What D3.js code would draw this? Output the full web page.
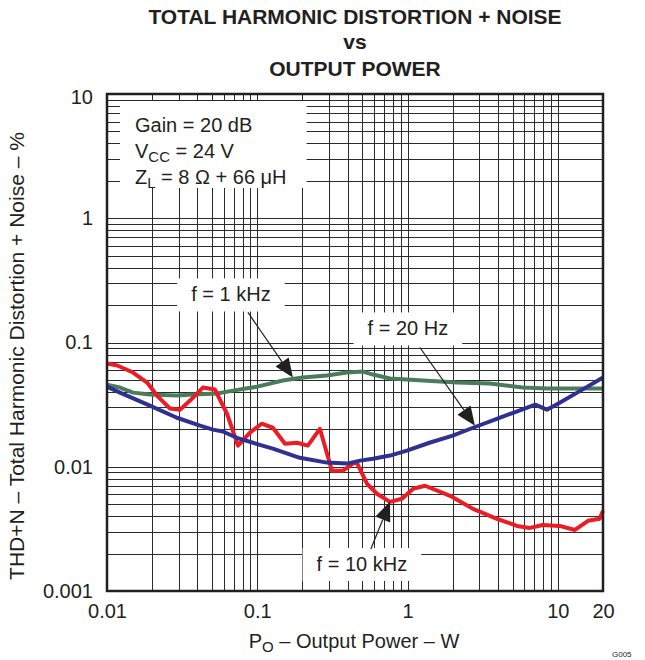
<!DOCTYPE html>
<html><head><meta charset="utf-8">
<script src="https://cdn.jsdelivr.net/npm/d3@7"></script>
<style>
body{margin:0;background:#fff}
text{font-family:Arial,"Liberation Sans",Helvetica,sans-serif;fill:#231f20}
</style>
</head><body><svg id="c" width="645" height="660"></svg>
<script>
// ---------------- data ----------------
const titleLines = ["TOTAL HARMONIC DISTORTION + NOISE", "vs", "OUTPUT POWER"];
const xTickValues = [0.01, 0.1, 1, 10, 20];
const xTickLabels = ["0.01", "0.1", "1", "10", "20"];
const yTickValues = [10, 1, 0.1, 0.01, 0.001];
const yTickLabels = ["10", "1", "0.1", "0.01", "0.001"];
const xAxisLabel = ["P", "O", " \u2013 Output Power \u2013 W"];
const yAxisLabel = "THD+N \u2013 Total Harmonic Distortion + Noise \u2013 %";
const conditions = [["Gain = 20 dB", "", ""], ["V", "CC", " = 24 V"], ["Z", "L", " = 8 \u03A9 + 66 \u03BCH"]];

// f = 1 kHz
const power1k = [0.01, 0.0122, 0.0149, 0.0193, 0.0292, 0.0373, 0.054, 0.0689, 0.1, 0.148, 0.2, 0.291, 0.395, 0.505, 0.589, 0.764, 1.27, 2.13, 3.53, 5.86, 8.46, 12.6, 20];
const thd1k = [0.0458, 0.0434, 0.0395, 0.0381, 0.0374, 0.0381, 0.0388, 0.041, 0.0441, 0.0494, 0.0523, 0.0542, 0.0573, 0.0583, 0.0552, 0.0513, 0.0494, 0.0476, 0.0467, 0.0434, 0.0426, 0.0426, 0.0426];
// f = 20 Hz
const power20 = [0.01, 0.0122, 0.0193, 0.0292, 0.0416, 0.0507, 0.0591, 0.0731, 0.104, 0.127, 0.192, 0.291, 0.395, 0.484, 0.589, 0.764, 0.99, 1.40, 2.00, 2.73, 3.97, 5.05, 7.08, 8.46, 10.3, 14.2, 20];
const thd20 = [0.0441, 0.0395, 0.031, 0.0248, 0.0214, 0.0199, 0.0192, 0.0171, 0.0150, 0.0140, 0.0118, 0.0108, 0.0106, 0.0112, 0.0116, 0.0123, 0.0135, 0.0156, 0.0178, 0.0206, 0.0244, 0.0272, 0.0316, 0.0288, 0.0328, 0.041, 0.0523];
// f = 10 kHz
const power10k = [0.01, 0.0117, 0.0149, 0.0185, 0.0215, 0.0263, 0.0306, 0.0357, 0.0435, 0.0523, 0.0629, 0.0744, 0.0894, 0.107, 0.127, 0.153, 0.184, 0.217, 0.261, 0.314, 0.372, 0.433, 0.46, 0.537, 0.626, 0.764, 0.918, 1.09, 1.31, 1.92, 2.73, 3.94, 5.35, 6.52, 7.96, 10.3, 13.0, 15.9, 19.0, 20];
const thd10k = [0.0678, 0.0653, 0.0573, 0.0476, 0.0374, 0.0294, 0.0288, 0.0341, 0.0434, 0.0418, 0.0267, 0.0148, 0.0188, 0.0222, 0.0206, 0.0153, 0.0156, 0.0148, 0.0202, 0.0093, 0.0093, 0.0106, 0.0108, 0.0073, 0.00606, 0.00522, 0.00552, 0.00665, 0.00703, 0.00584, 0.00458, 0.00381, 0.00334, 0.00322, 0.0034, 0.00334, 0.0031, 0.00367, 0.00381, 0.00442];

const seriesNames = ["f = 1 kHz", "f = 20 Hz", "f = 10 kHz"];
const seriesColors = ["#4a7c5c", "#2e3192", "#ed1c24"];
// annotation: label position (P, THD) and arrow tail / tip in data units
const labelAt = [[0.0668, 0.214], [1.006, 0.114], [0.497, 0.00145]];
const arrowFrom = [[0.0867, 0.1746], [1.209, 0.0912], [0.570, 0.00218]];
const arrowTip = [[0.1727, 0.0522], [2.81, 0.0214], [0.764, 0.00522]];

// ---------------- chart ----------------
const L = 107, R = 603, T = 94, B = 591;
const svg = d3.select("#c");
const x = d3.scaleLog().domain([0.01, 20]).range([L, R]);
const y = d3.scaleLog().domain([0.001, 10]).range([B, T]);

// grid lines through axes
const xGrid = [];
[0.01, 0.1, 1].forEach(d => { for (let k = 1; k <= 9; k++) xGrid.push(d * k); });
xGrid.push(10);
const yGrid = [];
[0.001, 0.01, 0.1, 1].forEach(d => { for (let k = 1; k <= 9; k++) yGrid.push(d * k); });

const gx = svg.append("g").attr("transform", `translate(0,${B})`)
  .call(d3.axisBottom(x).tickValues(xGrid).tickSize(-(B - T)).tickFormat(""));
const gy = svg.append("g").attr("transform", `translate(${L},0)`)
  .call(d3.axisLeft(y).tickValues(yGrid).tickSize(-(R - L)).tickFormat(""));
[gx, gy].forEach(g => {
  g.select(".domain").remove();
  g.selectAll(".tick line").attr("stroke", "#2a2a2a").attr("stroke-width", 1).attr("shape-rendering", "crispEdges");
});

// tick labels
const ax = svg.append("g").attr("transform", `translate(0,${B})`)
  .call(d3.axisBottom(x).tickValues(xTickValues).tickSize(0).tickPadding(13)
    .tickFormat((d, i) => xTickLabels[i]));
const ay = svg.append("g").attr("transform", `translate(${L},0)`)
  .call(d3.axisLeft(y).tickValues(yTickValues).tickSize(0).tickPadding(14)
    .tickFormat((d, i) => yTickLabels[i]));
[ax, ay].forEach(g => {
  g.select(".domain").remove();
  g.selectAll("text").attr("font-size", 20).attr("font-family", "Arial, 'Liberation Sans', sans-serif").attr("fill", "#231f20");
});
ay.selectAll(".tick").filter(d => d === 10).select("text").attr("dy", "0.45em");

// conditions box
const cond = svg.append("g");
conditions.forEach((c, i) => {
  const t = cond.append("text").attr("x", 135).attr("y", 132 + i * 26).attr("font-size", 20);
  t.append("tspan").text(c[0]);
  if (c[1]) t.append("tspan").attr("font-size", 15).attr("dy", 4).text(c[1]);
  if (c[2]) t.append("tspan").attr("dy", c[1] ? -4 : 0).text(c[2]);
});
const cb = cond.node().getBBox();
cond.insert("rect", ":first-child").attr("x", cb.x - 15).attr("y", 101)
  .attr("width", cb.width + 35).attr("height", 87).attr("fill", "#fff");

// annotation label boxes (drawn before curves)
const labels = svg.append("g");
seriesNames.forEach((n, i) => {
  const g = labels.append("g");
  const t = g.append("text").attr("x", x(labelAt[i][0])).attr("y", y(labelAt[i][1]))
    .attr("text-anchor", "middle").attr("font-size", 20).text(n);
  const b = t.node().getBBox();
  g.insert("rect", "text").attr("x", b.x - 14).attr("y", b.y - 5)
    .attr("width", b.width + 28).attr("height", b.height + 11).attr("fill", "#fff");
});

// curves
const series = [
  power1k.map((p, i) => ({p, v: thd1k[i]})),
  power20.map((p, i) => ({p, v: thd20[i]})),
  power10k.map((p, i) => ({p, v: thd10k[i]}))
];
const line = d3.line().x(d => x(d.p)).y(d => y(d.v));
const drawOrder = [0, 2, 1];
svg.append("g").selectAll("path").data(drawOrder).join("path")
  .attr("d", i => line(series[i])).attr("fill", "none")
  .attr("stroke", i => seriesColors[i]).attr("stroke-width", 4)
  .attr("stroke-linejoin", "round").attr("stroke-linecap", "butt");

// arrows
const arrows = svg.append("g");
seriesNames.forEach((n, i) => {
  const x0 = x(arrowFrom[i][0]), y0 = y(arrowFrom[i][1]);
  const x1 = x(arrowTip[i][0]), y1 = y(arrowTip[i][1]);
  const dx = x1 - x0, dy = y1 - y0, len = Math.hypot(dx, dy);
  const ux = dx / len, uy = dy / len, hl = 19, hw = 8;
  const bx = x1 - ux * hl, by = y1 - uy * hl;
  arrows.append("line").attr("x1", x0).attr("y1", y0).attr("x2", bx).attr("y2", by)
    .attr("stroke", "#231f20").attr("stroke-width", 1.2);
  arrows.append("path")
    .attr("d", `M${x1},${y1}L${bx - uy * hw},${by + ux * hw}L${bx + uy * hw},${by - ux * hw}Z`)
    .attr("fill", "#231f20");
});

// frame
svg.append("rect").attr("x", L).attr("y", T).attr("width", R - L).attr("height", B - T)
  .attr("fill", "none").attr("stroke", "#231f20").attr("stroke-width", 2.5);

// titles
titleLines.forEach((s, i) => {
  svg.append("text").attr("x", 355).attr("y", [24, 49, 76][i]).attr("text-anchor", "middle")
    .attr("font-size", 21).attr("font-weight", "bold").text(s);
});

// x axis label
const xl = svg.append("text").attr("x", 354).attr("y", 648).attr("text-anchor", "middle").attr("font-size", 20);
xl.append("tspan").text(xAxisLabel[0]);
xl.append("tspan").attr("font-size", 15).attr("dy", 4).text(xAxisLabel[1]);
xl.append("tspan").attr("dy", -4).text(xAxisLabel[2]);

// y axis label
svg.append("text").attr("transform", `translate(24,356) rotate(-90)`).attr("text-anchor", "middle")
  .attr("font-size", 21).text(yAxisLabel);

// figure id
svg.append("text").attr("x", 612).attr("y", 657).attr("font-size", 8).attr("fill", "#444").text("G005");
</script>
</body></html>
